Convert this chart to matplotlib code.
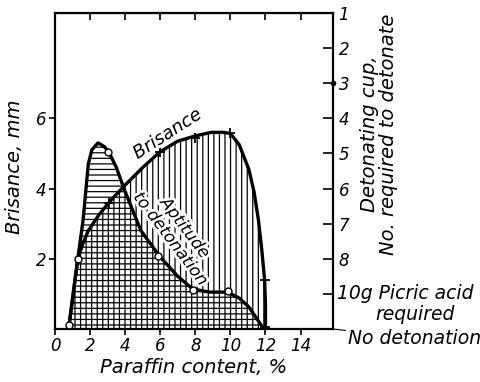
import numpy as np
import matplotlib
matplotlib.use("Agg")
import matplotlib.pyplot as plt
import matplotlib.transforms as mtransforms
import matplotlib.patheffects as pe

# ---- data ----
# brisance curve (mm), drawn as the upper vertical-hatched region
bris_x = [0.8, 1.05, 1.3, 1.6, 1.9, 2.5, 3.07, 3.9, 5.0, 6.0, 7.0, 8.0, 8.9, 9.6, 10.0, 10.5, 11.05, 11.35, 11.6, 11.8, 11.95, 12.0, 12.0]
bris_y = [0.1, 1.05, 2.0, 2.45, 2.8, 3.25, 3.6, 4.05, 4.6, 5.05, 5.35, 5.5, 5.6, 5.6, 5.57, 5.25, 4.55, 3.9, 3.1, 2.2, 1.4, 0.7, 0.0]
bris_mx = [3.07, 6.0, 8.0, 10.0, 11.95, 12.0]
bris_my = [3.6, 5.05, 5.45, 5.57, 1.4, 0.05]

# aptitude to detonation (right axis, same scale), horizontal-hatched region
apt_x = [0.8, 1.05, 1.3, 1.6, 1.9, 2.1, 2.45, 2.8, 3.07, 3.5, 3.93, 4.9, 6.0, 7.0, 7.85, 8.8, 9.85, 10.5, 11.05, 11.5, 11.9]
apt_y = [0.1, 1.05, 2.0, 3.1, 4.7, 5.1, 5.3, 5.2, 5.04, 4.6, 4.0, 2.8, 2.05, 1.5, 1.14, 1.05, 1.05, 0.88, 0.63, 0.3, 0.0]
apt_mx = [0.8, 1.3, 3.0, 5.9, 7.85, 9.85]
apt_my = [0.1, 2.0, 5.04, 2.08, 1.12, 1.07]

x_ticks = [0, 2, 4, 6, 8, 10, 12, 14]
y_ticks = [2, 4, 6]
cup_pos = [9, 8, 7, 6, 5, 4, 3, 2]
cup_labels = ["1", "2", "3", "4", "5", "6", "7", "8"]

plt.rcParams["font.family"] = "DejaVu Sans"
plt.rcParams["font.style"] = "italic"
plt.rcParams["hatch.linewidth"] = 0.9
fs = 14     # axis titles
fst = 12    # tick digits

fig = plt.figure(figsize=(4.8, 3.82), dpi=100)
ax = fig.add_axes([55 / 480, 1 - 329 / 382, 278 / 480, 316 / 382])

# hatched areas
ax.fill_between(bris_x, 0, bris_y, facecolor="none", edgecolor="black",
                hatch="|||", linewidth=0)
ax.fill_between(apt_x, 0, apt_y, facecolor="none", edgecolor="black",
                hatch="---", linewidth=0)

# curves
ax.plot(bris_x, bris_y, color="black", lw=2.4, solid_capstyle="round")
ax.plot(apt_x, apt_y, color="black", lw=2.4, solid_capstyle="round")
ax.plot(bris_mx, bris_my, "+", color="black", ms=7, mew=1.3)
ax.plot(apt_mx, apt_my, "o", color="black", mfc="white", ms=5, mew=1.0, zorder=5)

ax.set_xlim(0, 15.85)
ax.set_ylim(0, 9)
for s in ax.spines.values():
    s.set_linewidth(1.6)

ax.set_xticks(x_ticks)
ax.set_yticks(y_ticks)
ax.tick_params(axis="both", direction="out", length=4, width=1.2, labelsize=fst, pad=2)
ax.set_xlabel("Paraffin content, %", fontsize=fs, labelpad=2)

top = ax.secondary_xaxis("top")
top.set_xticks(x_ticks[1:])
top.tick_params(direction="in", length=5, width=1.2, labeltop=False)

ax2 = ax.twinx()
ax2.set_ylim(0, 9)
ax2.set_yticks(cup_pos + [1])
ax2.set_yticklabels(cup_labels + [""])
ax2.tick_params(direction="in", length=7, width=1.2, labelsize=fst, pad=4)
for s in ax2.spines.values():
    s.set_visible(False)

# left title
fig.text(15 / 480, 1 - 167 / 382, "Brisance, mm", rotation=90,
         ha="center", va="center", fontsize=fs)

# right side special labels
tr = mtransforms.blended_transform_factory(ax.transAxes, ax.transData)
ax.text(1.013, 1.0, "10g Picric acid", transform=tr, fontsize=13.5, ha="left", va="center")
ax.text(1.295, 0.4, "required", transform=tr, fontsize=13.5, ha="center", va="center")
ax.annotate("No detonation", xy=(1.0, 0.0), xycoords="axes fraction",
            xytext=(1.055, -0.03), textcoords="axes fraction",
            fontsize=13.5, ha="left", va="center",
            arrowprops=dict(arrowstyle="-", color="black", lw=0.8,
                            shrinkA=0, shrinkB=0))
ax.plot([1.0], [7.0], "o", color="black", ms=3, transform=tr, clip_on=False)

fig.text(379 / 480, 1 - 134 / 382, "Detonating cup,\nNo. required to detonate",
         rotation=90, ha="center", va="center", multialignment="center",
         fontsize=fs, linespacing=1.0)

# curve labels
halo = [pe.withStroke(linewidth=4, foreground="white")]
ax.text(6.4, 5.55, "Brisance", fontsize=13, rotation=33, ha="center", va="center",
        path_effects=halo)
ax.text(7.0, 2.73, "Aptitude\nto detonation", fontsize=12, rotation=-53,
        ha="center", va="center", multialignment="center", linespacing=1.0,
        path_effects=halo, zorder=6)

fig.savefig("out.png", dpi=100)
